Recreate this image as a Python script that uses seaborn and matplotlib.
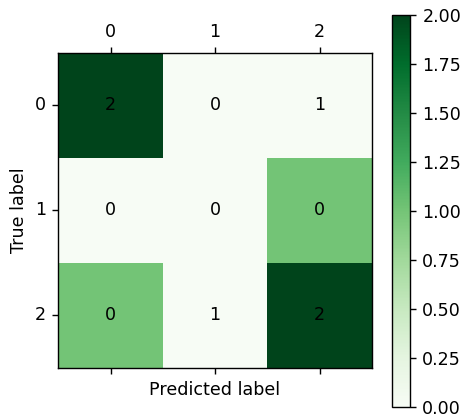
import numpy as np
import matplotlib
matplotlib.use("Agg")
import matplotlib.pyplot as plt
import seaborn as sns

classes = ["0", "1", "2"]
# confusion matrix as coloured (rows = true, cols = predicted)
cm = np.array([[2, 0, 0],
               [0, 0, 1],
               [1, 0, 2]])
# the numbers written into the cells (transposed in the source chart)
cell_text = cm.T
cbar_ticks = [0.0, 0.25, 0.5, 0.75, 1.0, 1.25, 1.5, 1.75, 2.0]

DPI = 126
fig = plt.figure(figsize=(468 / DPI, 419 / DPI), dpi=DPI)
ax = fig.add_axes([58.3 / 468, 51.5 / 419, 313.5 / 468, 314.5 / 419])
cax = fig.add_axes([391.5 / 468, 11.8 / 419, 18.5 / 468, 392.5 / 419])

sns.heatmap(cm, ax=ax, cbar_ax=cax, cmap="Greens", vmin=0, vmax=2,
            annot=cell_text, fmt="d", square=False,
            annot_kws={"color": "black", "fontsize": 10},
            xticklabels=classes, yticklabels=classes)

# matshow-like look: labels on top, ticks on both sides, visible frame
ax.tick_params(axis="x", top=True, bottom=True, labeltop=True, labelbottom=False,
               length=3.5, labelsize=10)
ax.tick_params(axis="y", left=True, length=3.5, labelsize=10)
plt.setp(ax.get_yticklabels(), rotation=0)
plt.setp(ax.get_xticklabels(), rotation=0)
for s in ax.spines.values():
    s.set_visible(True)
    s.set_linewidth(0.8)
ax.set_xlabel("Predicted label", fontsize=10)
ax.set_ylabel("True label", fontsize=10)

cb = ax.collections[0].colorbar
cb.set_ticks(cbar_ticks)
cb.set_ticklabels([f"{t:.2f}" for t in cbar_ticks])
cb.outline.set_visible(True)
cb.outline.set_linewidth(0.8)
cax.tick_params(length=3.5, labelsize=10)

fig.savefig("out.png", dpi=DPI)
